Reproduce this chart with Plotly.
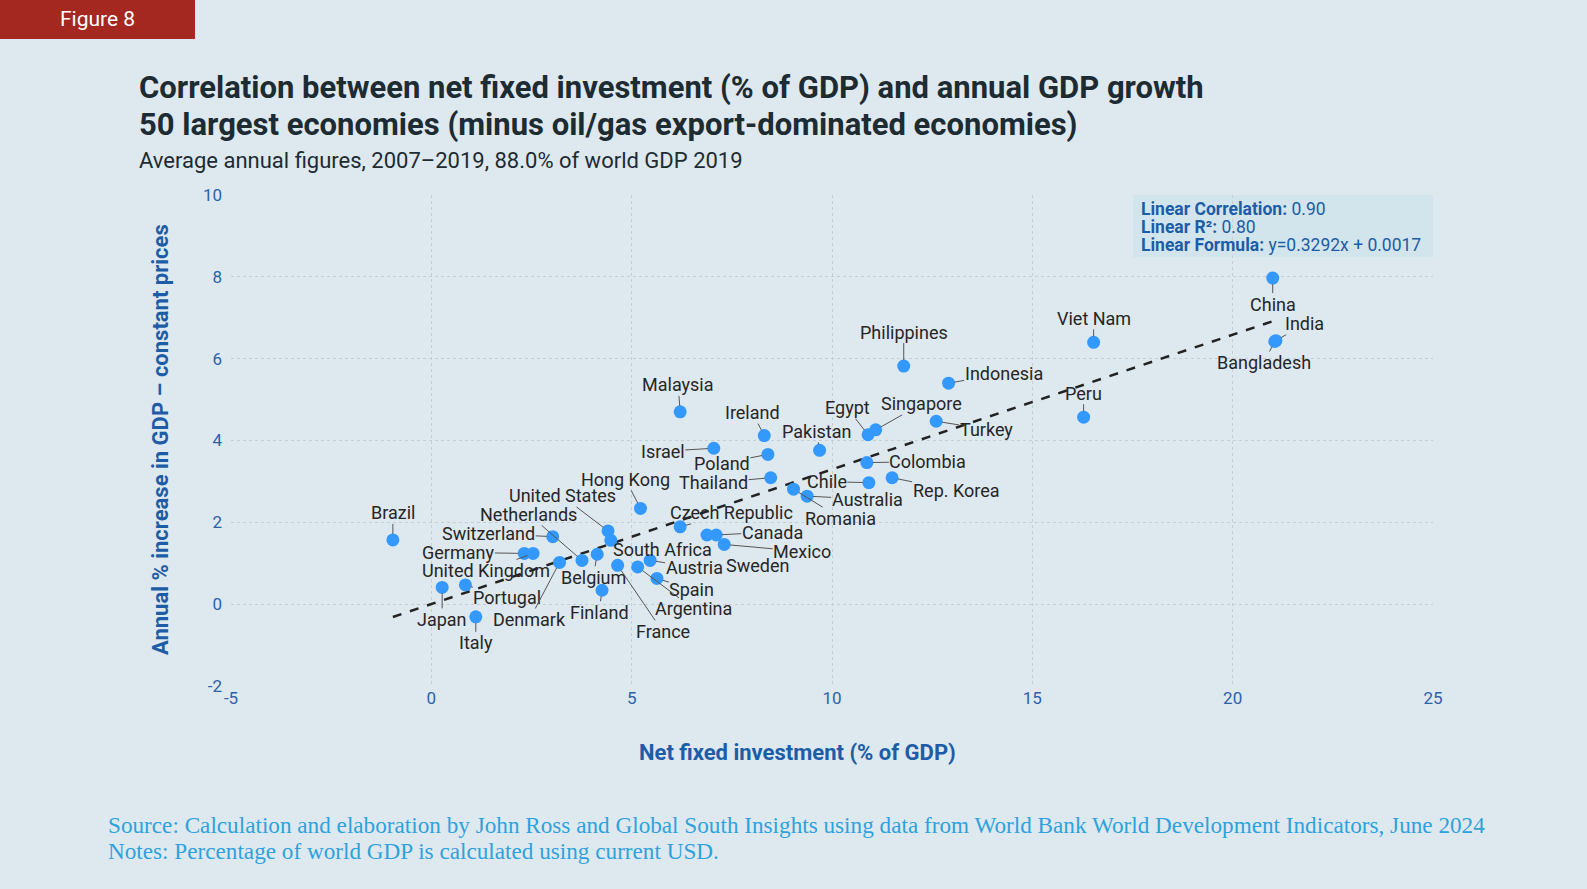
import plotly.graph_objects as go

# ---------------- data ----------------
countries = ["China", "India", "Bangladesh", "Viet Nam", "Peru", "Philippines", "Indonesia",
             "Turkey", "Egypt", "Singapore", "Pakistan", "Colombia", "Chile", "Rep. Korea",
             "Australia", "Romania", "Malaysia", "Ireland", "Israel", "Poland", "Thailand",
             "Hong Kong", "Czech Republic", "Canada", "Sweden", "Mexico", "United States",
             "Netherlands", "Switzerland", "Germany", "United Kingdom", "Brazil", "Japan",
             "Portugal", "Italy", "Denmark", "Belgium", "Finland", "France", "Argentina",
             "Spain", "Austria", "South Africa"]
net_investment = [21.00, 21.08, 21.05, 16.53, 16.28, 11.79, 12.91,
                  12.60, 10.90, 11.09, 9.69, 10.87, 10.92, 11.50,
                  9.38, 9.04, 6.21, 8.31, 7.05, 8.40, 8.47,
                  5.22, 6.21, 7.11, 6.88, 7.31, 4.41,
                  3.76, 3.03, 2.32, 2.54, -0.96, 0.27,
                  0.85, 1.11, 3.20, 4.14, 4.26, 4.65, 5.15,
                  5.63, 5.46, 4.48]
gdp_growth = [7.97, 6.44, 6.42, 6.40, 4.57, 5.82, 5.40,
              4.47, 4.14, 4.26, 3.76, 3.46, 2.97, 3.09,
              2.64, 2.81, 4.70, 4.12, 3.81, 3.66, 3.09,
              2.34, 1.89, 1.69, 1.69, 1.46, 1.79,
              1.07, 1.65, 1.24, 1.24, 1.57, 0.41,
              0.47, -0.31, 1.02, 1.22, 0.34, 0.95, 0.91,
              0.63, 1.07, 1.56]

x_ticks = [-5, 0, 5, 10, 15, 20, 25]
x_tick_labels = ["-5", "0", "5", "10", "15", "20", "25"]
y_ticks = [-2, 0, 2, 4, 6, 8, 10]
y_tick_labels = ["-2", "0", "2", "4", "6", "8", "10"]

slope = 0.3292
intercept = 0.0017
correlation = "0.90"
r_squared = "0.80"

# label offsets (pixels, label centre relative to point)
label_offsets = {
    "China": (0, 26), "India": (29, -17), "Bangladesh": (-11, 21), "Viet Nam": (0, -24),
    "Peru": (0, -24), "Philippines": (0, -34), "Indonesia": (55, -10), "Turkey": (50, 8),
    "Egypt": (-21, -27), "Singapore": (46, -26), "Pakistan": (-3, -19), "Colombia": (61, -1),
    "Chile": (-42, -1), "Rep. Korea": (64, 13), "Australia": (60, 3), "Romania": (47, 29),
    "Malaysia": (-2, -27), "Ireland": (-12, -23), "Israel": (-51, 3), "Poland": (-46, 9),
    "Thailand": (-57, 5), "Hong Kong": (-15, -29), "Czech Republic": (51, -14),
    "Canada": (56, -3), "Sweden": (51, 30), "Mexico": (78, 7), "United States": (-46, -35),
    "Netherlands": (-53, -46), "Switzerland": (-64, -3), "Germany": (-66, -1),
    "United Kingdom": (-47, 17), "Brazil": (0, -27), "Japan": (0, 32), "Portugal": (42, 13),
    "Italy": (0, 26), "Denmark": (-30, 57), "Belgium": (-4, 23), "Finland": (-3, 22),
    "France": (45, 66), "Argentina": (56, 42), "Spain": (35, 11), "Austria": (44, 7),
    "South Africa": (52, 9),
}

# ---------------- layout geometry ----------------
W, H = 1587, 889
L, R, T, B = 231, 154, 195, 203
PW, PH = W - L - R, H - T - B


def px(xp):
    return (xp - L) / PW


def py(yp):
    return (H - B - yp) / PH


BG = "#dee8ef"
BLUE = "#1d5ca6"
TICK_BLUE = "#2b62a8"
DARK = "#1d2b33"

fig = go.Figure()

# trend line
xmin, xmax = min(net_investment), max(net_investment)
fig.add_trace(go.Scatter(
    x=[xmin, xmax], y=[slope * xmin + intercept, slope * xmax + intercept],
    mode="lines", line=dict(color="#222222", width=2.5, dash="dash"),
    hoverinfo="skip", showlegend=False))

fig.add_trace(go.Scatter(
    x=net_investment, y=gdp_growth, mode="markers", text=countries,
    marker=dict(color="#3399ff", size=13),
    showlegend=False, hovertemplate="%{text}<br>%{x}, %{y}<extra></extra>"))

annotations = []
for c, xv, yv in zip(countries, net_investment, gdp_growth):
    ax, ay = label_offsets[c]
    annotations.append(dict(
        x=xv, y=yv, xref="x", yref="y", text=c, showarrow=True,
        ax=ax, ay=ay, arrowhead=0, arrowwidth=1, arrowcolor="#555555",
        standoff=6, startstandoff=0, borderpad=0,
        font=dict(family="Roboto", size=18, color="#262626")))

# stats box (three lines, tight spacing)
stat_lines = [
    f"<b>Linear Correlation:</b> {correlation}",
    f"<b>Linear R²:</b> {r_squared}",
    f"<b>Linear Formula:</b> y={slope:.4f}x + {intercept:.4f}",
]
for i, s in enumerate(stat_lines):
    annotations.append(dict(
        xref="paper", yref="paper", x=px(1139), y=py(208.5 + 18.3 * i),
        xanchor="left", yanchor="middle", showarrow=False, text=s,
        font=dict(family="Roboto", size=17.5, color=BLUE)))

# titles
annotations += [
    dict(xref="paper", yref="paper", x=px(137), y=py(87), xanchor="left", yanchor="middle",
         showarrow=False, text="<b>Correlation between net fixed investment (% of GDP) and annual GDP growth</b>",
         font=dict(family="Roboto", size=31, color=DARK)),
    dict(xref="paper", yref="paper", x=px(137), y=py(125), xanchor="left", yanchor="middle",
         showarrow=False, text="<b>50 largest economies (minus oil/gas export-dominated economies)</b>",
         font=dict(family="Roboto", size=31, color=DARK)),
    dict(xref="paper", yref="paper", x=px(137), y=py(160), xanchor="left", yanchor="middle",
         showarrow=False, text="Average annual figures, 2007\u20132019, 88.0% of world GDP 2019",
         font=dict(family="Roboto", size=22, color=DARK)),
    dict(xref="paper", yref="paper", x=px(97), y=py(19), xanchor="center", yanchor="middle",
         showarrow=False, text="Figure 8",
         font=dict(family="Roboto", size=21, color="white")),
    dict(xref="paper", yref="paper", x=px(797), y=py(752), xanchor="center", yanchor="middle",
         showarrow=False, text="<b>Net fixed investment (% of GDP)</b>",
         font=dict(family="Roboto", size=22, color=BLUE)),
    dict(xref="paper", yref="paper", x=px(160), y=py(440), xanchor="center", yanchor="middle",
         showarrow=False, text="<b>Annual % increase in GDP \u2013 constant prices</b>", textangle=-90,
         font=dict(family="Roboto", size=22, color=BLUE)),
    dict(xref="paper", yref="paper", x=px(106), y=py(825), xanchor="left", yanchor="middle",
         showarrow=False,
         text="Source: Calculation and elaboration by John Ross and Global South Insights using data from World Bank World Development Indicators, June 2024",
         font=dict(family="Liberation Serif", size=23.2, color="#2ea2dd")),
    dict(xref="paper", yref="paper", x=px(106), y=py(851), xanchor="left", yanchor="middle",
         showarrow=False,
         text="Notes: Percentage of world GDP is calculated using current USD.",
         font=dict(family="Liberation Serif", size=23.2, color="#2ea2dd")),
]

shapes = [
    dict(type="rect", xref="paper", yref="paper", x0=px(0), x1=px(195), y0=py(39), y1=py(0),
         fillcolor="#a52820", line=dict(width=0), layer="above"),
    dict(type="rect", xref="paper", yref="paper", x0=px(1133), x1=px(1433), y0=py(257), y1=py(195),
         fillcolor="#d2e5ec", line=dict(width=0), layer="below"),
]

grid = dict(showgrid=True, gridcolor="#c6cdd3", griddash="3px,3px", gridwidth=1,
            zeroline=False, showline=False, ticks="",
            tickfont=dict(family="Roboto", size=17, color=TICK_BLUE))

fig.update_layout(
    width=W, height=H, margin=dict(l=L, r=R, t=T, b=B),
    paper_bgcolor=BG, plot_bgcolor=BG,
    xaxis=dict(range=[-5, 25], tickvals=x_ticks, ticktext=x_tick_labels, **grid),
    yaxis=dict(range=[-2, 10], tickvals=y_ticks, ticktext=y_tick_labels, ticklabelstandoff=8, **grid),
    annotations=annotations, shapes=shapes, showlegend=False,
)

fig.write_html("out.html", config={"displayModeBar": False},
               post_script="document.body.style.margin='0';document.body.style.overflow='hidden';")
